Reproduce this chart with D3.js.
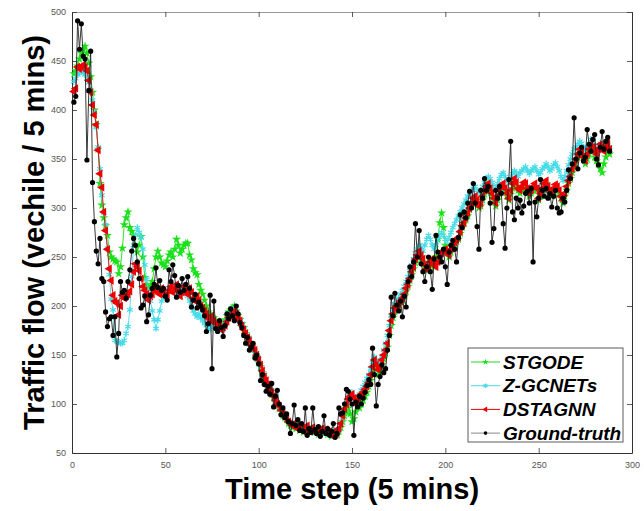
<!DOCTYPE html>
<html>
<head>
<meta charset="utf-8">
<script src="https://cdn.jsdelivr.net/npm/d3@7"></script>
<style>
  body { margin: 0; background: #fff; }
  text { font-family: Arial, "Liberation Sans", sans-serif; }
</style>
</head>
<body>
<script>
// values, one per 5 min step (t = 1..288)
const groundTruth = [
  408, 414, 491, 462, 488, 455, 452, 349, 420, 460,
  326, 286, 256, 243, 269, 228, 225, 194, 179, 187,
  189, 170, 189, 148, 172, 225, 214, 216, 208, 225,
  237, 256, 269, 262, 245, 228, 198, 201, 210, 184,
  191, 211, 218, 222, 239, 219, 226, 216, 218, 210,
  206, 237, 225, 242, 231, 209, 221, 214, 228, 216,
  222, 230, 218, 199, 206, 212, 198, 204, 200, 196,
  190, 174, 182, 211, 136, 205, 177, 174, 185, 178,
  169, 180, 192, 187, 197, 190, 185, 200, 192, 183,
  178, 170, 162, 168, 155, 158, 162, 147, 150, 141,
  124, 130, 120, 113, 118, 110, 121, 97, 108, 114,
  100, 89, 96, 86, 90, 82, 70, 80, 99, 78,
  84, 73, 80, 72, 96, 68, 75, 71, 96, 74,
  70, 77, 67, 72, 88, 70, 75, 68, 72, 80,
  66, 70, 96, 90, 91, 100, 115, 113, 105, 100,
  68, 102, 97, 108, 100, 106, 112, 119, 125, 120,
  157, 130, 98, 120, 128, 140, 132, 136, 155, 170,
  209, 190, 213, 201, 195, 205, 189, 210, 199, 225,
  240, 230, 245, 284, 250, 277, 243, 235, 225, 240,
  250, 235, 217, 248, 272, 255, 250, 245, 258, 240,
  222, 255, 262, 267, 258, 245, 270, 293, 280, 296,
  290, 305, 317, 300, 325, 305, 281, 258, 318, 310,
  330, 318, 322, 305, 265, 279, 318, 310, 322, 315,
  284, 259, 300, 329, 368, 296, 288, 310, 300, 308,
  295, 302, 315, 317, 305, 320, 245, 306, 291, 310,
  329, 318, 312, 320, 310, 315, 301, 312, 318, 300,
  295, 296, 310, 306, 318, 339, 330, 345, 392, 350,
  340, 356, 362, 348, 352, 380, 365, 358, 370, 375,
  350, 344, 362, 378, 360, 368, 372, 358
]

const dstagnn = [
  419, 422, 444, 442, 444, 446, 444, 440, 430, 418,
  405, 395, 385, 359, 335, 321, 296, 277, 258, 238,
  226, 211, 205, 203, 191, 200, 211, 208, 210, 212,
  215, 222, 235, 243, 240, 236, 228, 220, 216, 212,
  206, 210, 212, 216, 220, 215, 212, 218, 214, 210,
  212, 216, 220, 214, 218, 222, 215, 210, 214, 220,
  216, 212, 218, 214, 208, 205, 210, 206, 200, 198,
  195, 192, 188, 186, 190, 185, 182, 178, 180, 176,
  178, 180, 184, 188, 190, 192, 195, 192, 188, 185,
  180, 176, 172, 168, 165, 160, 158, 155, 150, 145,
  140, 134, 128, 124, 120, 115, 112, 108, 104, 100,
  98, 94, 90, 88, 85, 82, 80, 78, 80, 76,
  78, 74, 76, 72, 75, 78, 72, 74, 76, 72,
  74, 70, 72, 75, 72, 74, 70, 72, 68, 70,
  72, 70, 75, 80, 88, 95, 100, 105, 108, 110,
  106, 100, 104, 108, 110, 112, 115, 118, 122, 130,
  138, 145, 140, 135, 138, 145, 150, 155, 162, 175,
  185, 192, 198, 200, 202, 205, 208, 212, 218, 222,
  228, 235, 240, 248, 252, 256, 252, 248, 242, 238,
  240, 245, 248, 242, 240, 245, 250, 254, 256, 258,
  255, 252, 258, 262, 265, 268, 270, 276, 282, 285,
  290, 295, 300, 305, 310, 312, 308, 302, 305, 312,
  318, 322, 325, 320, 315, 310, 305, 312, 318, 322,
  325, 320, 315, 310, 318, 325, 330, 326, 320, 318,
  322, 326, 325, 320, 315, 318, 322, 325, 320, 310,
  315, 320, 325, 328, 322, 318, 315, 320, 324, 322,
  318, 312, 308, 315, 322, 328, 332, 340, 345, 350,
  355, 360, 358, 352, 348, 355, 360, 365, 362, 358,
  355, 360, 365, 362, 358, 362, 366, 360
]

const stgode = [
  437, 440, 445, 452, 458, 462, 465, 458, 448, 434,
  418, 400, 385, 360, 325, 303, 290, 282, 272, 255,
  250, 248, 246, 245, 233, 240, 259, 283, 290, 296,
  280, 276, 272, 262, 255, 262, 271, 250, 229, 222,
  218, 220, 225, 238, 250, 256, 250, 244, 242, 240,
  246, 252, 255, 250, 258, 268, 262, 254, 258, 262,
  264, 264, 252, 247, 238, 234, 232, 222, 216, 212,
  206, 200, 194, 192, 189, 188, 185, 182, 184, 180,
  182, 186, 190, 194, 196, 198, 200, 195, 190, 186,
  182, 178, 172, 168, 162, 160, 156, 152, 148, 142,
  138, 132, 126, 122, 118, 114, 110, 106, 102, 98,
  95, 92, 88, 86, 84, 80, 78, 76, 78, 75,
  76, 73, 75, 71, 73, 76, 72, 73, 75, 71,
  72, 69, 71, 73, 70, 72, 69, 70, 67, 69,
  70, 68, 72, 76, 82, 88, 92, 96, 90, 82,
  85, 92, 98, 96, 100, 104, 108, 112, 118, 124,
  132, 140, 136, 130, 134, 140, 146, 152, 158, 170,
  180, 188, 194, 198, 200, 204, 206, 210, 215, 220,
  226, 232, 238, 244, 250, 254, 250, 245, 240, 236,
  238, 242, 246, 240, 250, 268, 285, 295, 280, 262,
  255, 250, 255, 260, 264, 266, 268, 274, 280, 284,
  288, 292, 298, 302, 306, 310, 305, 300, 302, 308,
  314, 318, 322, 318, 312, 308, 302, 308, 314, 318,
  322, 318, 312, 308, 314, 320, 326, 322, 318, 315,
  318, 322, 320, 316, 312, 315, 318, 322, 318, 308,
  312, 316, 320, 325, 320, 315, 312, 316, 320, 318,
  315, 310, 305, 312, 318, 325, 330, 336, 342, 348,
  352, 356, 354, 350, 345, 350, 355, 360, 358, 352,
  348, 345, 340, 336, 345, 352, 358, 355
]

const zgcnets = [
  429, 432, 436, 438, 440, 438, 436, 432, 428, 420,
  410, 398, 382, 362, 340, 313, 295, 283, 259, 232,
  207, 196, 165, 164, 163, 162, 162, 165, 172, 179,
  196, 230, 262, 272, 280, 275, 270, 258, 242, 227,
  215, 205, 195, 186, 177, 186, 195, 205, 210, 212,
  215, 218, 222, 220, 218, 215, 212, 216, 220, 218,
  214, 210, 205, 200, 195, 192, 189, 192, 188, 185,
  182, 180, 178, 176, 180, 182, 178, 175, 178, 176,
  178, 182, 186, 190, 194, 196, 198, 194, 190, 186,
  182, 178, 174, 170, 166, 162, 158, 154, 150, 146,
  140, 135, 130, 125, 120, 116, 112, 108, 104, 100,
  97, 94, 91, 88, 86, 83, 80, 79, 80, 77,
  78, 75, 77, 73, 75, 77, 73, 74, 76, 73,
  74, 71, 73, 75, 72, 74, 71, 72, 69, 71,
  72, 71, 74, 80, 86, 94, 100, 106, 110, 112,
  108, 104, 106, 110, 114, 118, 122, 126, 130, 136,
  142, 148, 145, 140, 142, 148, 155, 162, 170, 180,
  190, 196, 202, 205, 208, 212, 216, 220, 225, 230,
  236, 242, 248, 254, 258, 262, 260, 256, 262, 268,
  272, 268, 262, 258, 262, 268, 272, 275, 272, 268,
  266, 270, 275, 280, 284, 288, 292, 296, 300, 304,
  308, 312, 315, 318, 320, 322, 318, 315, 318, 322,
  326, 330, 332, 330, 326, 322, 320, 325, 330, 334,
  336, 332, 328, 325, 330, 335, 338, 335, 332, 336,
  338, 340, 342, 338, 335, 338, 340, 342, 338, 334,
  336, 340, 342, 345, 342, 338, 340, 344, 346, 342,
  338, 332, 328, 332, 338, 344, 350, 355, 360, 362,
  365, 368, 366, 362, 358, 362, 366, 370, 368, 364,
  360, 362, 366, 364, 360, 362, 365, 362
]

const seriesNames = ["STGODE", "Z-GCNETs", "DSTAGNN", "Ground-truth"]
const xTicks = [0, 50, 100, 150, 200, 250, 300]
const yTicks = [50, 100, 150, 200, 250, 300, 350, 400, 450, 500]

function setattrs(shape, dict) {
    for (let [prop, val] of Object.entries(dict)) {
        shape.attr(prop, val)
    }
}

const W = 644, H = 511
const padL = 72, padR = 632, padT = 12, padB = 453

const svg = d3.select("body").append("svg")
setattrs(svg, {"width": W, "height": H})

const x = d3.scaleLinear().domain([0, 300]).range([padL, padR])
const y = d3.scaleLinear().domain([50, 500]).range([padB, padT])

// axes box, matlab style: ticks pointing in, mirrored on top/right
const gx = svg.append("g").attr("transform", `translate(0,${padB})`)
    .call(d3.axisBottom(x).tickValues(xTicks).tickSizeInner(-5).tickSizeOuter(0).tickPadding(9))
const gxTop = svg.append("g").attr("transform", `translate(0,${padT})`)
    .call(d3.axisTop(x).tickValues(xTicks).tickSizeInner(-5).tickSizeOuter(0).tickFormat(""))
const gy = svg.append("g").attr("transform", `translate(${padL},0)`)
    .call(d3.axisLeft(y).tickValues(yTicks).tickSizeInner(-5).tickSizeOuter(0).tickPadding(6))
const gyRight = svg.append("g").attr("transform", `translate(${padR},0)`)
    .call(d3.axisRight(y).tickValues(yTicks).tickSizeInner(-5).tickSizeOuter(0).tickFormat(""))

for (let g of [gx, gy, gxTop, gyRight]) {
    g.select(".domain").attr("stroke", "#333").attr("stroke-width", 1)
    g.selectAll(".tick line").attr("stroke", "#333").attr("stroke-width", 0.8)
    g.selectAll(".tick text").attr("fill", "#555").attr("font-size", 9)
        .attr("font-family", "Arial, 'Liberation Sans', sans-serif")
}
gxTop.select(".domain").attr("stroke", "#999")

const series = [
    {name: seriesNames[0], data: stgode, color: "#1be01b", marker: "star"},
    {name: seriesNames[1], data: zgcnets, color: "#45dbe8", marker: "asterisk"},
    {name: seriesNames[2], data: dstagnn, color: "#ee0000", marker: "triangle"},
    {name: seriesNames[3], data: groundTruth, color: "#000000", marker: "circle"}
]

const line = d3.line().x((d, i) => x(i + 1)).y(d => y(d))

function drawMarker(g, kind, color, px, py, scale = 1) {
    if (kind === "circle") {
        setattrs(g.append("circle"), {"cx": px, "cy": py, "r": 2.6 * scale, "fill": color})
    } else if (kind === "star") {
        setattrs(g.append("path"), {
            "d": d3.symbol(d3.symbolStar, 26 * scale * scale)(),
            "transform": `translate(${px},${py})`, "fill": color
        })
    } else if (kind === "asterisk") {
        setattrs(g.append("path"), {
            "d": d3.symbol(d3.symbolAsterisk, 30 * scale * scale)(),
            "transform": `translate(${px},${py})`, "fill": "none",
            "stroke": color, "stroke-width": 1.2
        })
    } else {
        setattrs(g.append("path"), {
            "d": d3.symbol(d3.symbolTriangle, 30 * scale * scale)(),
            "transform": `translate(${px},${py}) rotate(-90)`, "fill": color
        })
    }
}

for (let s of series) {
    const g = svg.append("g")
    g.append("path").datum(s.data)
        .attr("d", line)
        .attr("fill", "none")
        .attr("stroke", s.name === "Ground-truth" ? "#222" : s.color)
        .attr("stroke-width", 0.9)
    s.data.forEach((d, i) => drawMarker(g, s.marker, s.color, x(i + 1), y(d)))
}

// legend
const lg = svg.append("g")
setattrs(lg.append("rect"), {"x": 468, "y": 348, "width": 155, "height": 94,
    "fill": "#fff", "stroke": "#333", "stroke-width": 0.8})
series.forEach((s, i) => {
    const ly = 362 + i * 23.7
    setattrs(lg.append("line"), {"x1": 471, "x2": 500, "y1": ly, "y2": ly,
        "stroke": s.name === "Ground-truth" ? "#888" : s.color, "stroke-width": 1})
    drawMarker(lg, s.marker, s.color, 485.5, ly, 0.7)
    const t = lg.append("text").text(s.name)
    setattrs(t, {"x": 503, "y": ly, "dominant-baseline": "central",
        "font-size": 19, "font-weight": "bold", "font-style": "italic", "fill": "#000"})
})

// axis labels
const xl = svg.append("text").text("Time step (5 mins)")
setattrs(xl, {"x": (padL + padR) / 2, "y": 499, "text-anchor": "middle",
    "font-size": 29, "font-weight": "bold", "fill": "#000"})
const yl = svg.append("text").text("Traffic flow (vechile / 5 mins)")
setattrs(yl, {"transform": `translate(44,${(padT + padB) / 2}) rotate(-90)`,
    "text-anchor": "middle", "font-size": 29, "font-weight": "bold", "fill": "#000"})
</script>
</body>
</html>
